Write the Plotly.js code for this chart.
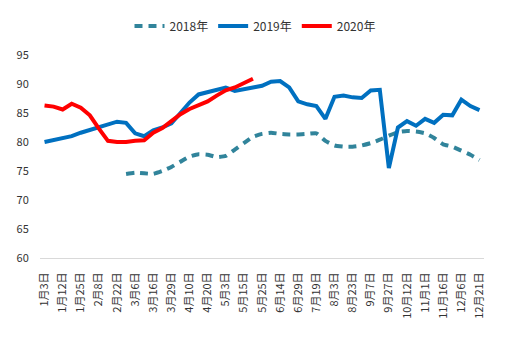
<!DOCTYPE html>
<html>
<head>
<meta charset="utf-8">
<script src="https://cdn.plot.ly/plotly-3.0.1.min.js"></script>
<style>html,body{margin:0;padding:0;background:#fff;}#chart{width:510px;height:345px;}</style>
</head>
<body>
<div id="chart"></div>
<script>
// Tick labels (every other data point is labelled)
const tickLabels = ["1月3日","1月12日","1月25日","2月8日","2月22日","3月6日","3月16日","3月29日","4月10日","4月20日","5月3日","5月15日","5月25日","6月14日","6月29日","7月19日","8月3日","8月23日","9月7日","9月27日","10月12日","11月1日","11月16日","12月6日","12月21日"];

// Series values, one per data point (49 points)
const s2018 = [null,null,null,null,null,null,null,null,null,
  74.5,74.7,74.6,74.5,75.0,75.7,76.6,77.5,77.9,77.8,77.4,77.6,78.7,79.8,80.9,81.4,81.6,81.4,81.3,81.3,81.4,81.5,80.2,79.4,79.2,79.2,79.4,79.8,80.4,81.1,81.7,81.9,81.8,81.5,80.7,79.6,79.2,78.5,77.8,76.9];
const s2019 = [80.0,80.3,80.7,81.0,81.6,82.1,82.5,83.1,83.5,83.3,81.5,81.0,82.0,82.5,83.2,85.0,86.8,88.2,88.6,89.0,89.4,88.8,89.1,89.4,89.7,90.4,90.5,89.4,87.0,86.5,86.2,84.0,87.8,88.0,87.7,87.6,88.9,89.0,75.5,82.5,83.6,82.8,84.0,83.3,84.7,84.6,87.3,86.2,85.5];
const s2020 = [86.3,86.1,85.6,86.6,85.9,84.6,82.3,80.2,80.0,80.0,80.2,80.3,81.6,82.4,83.6,84.8,85.7,86.4,87.0,88.0,88.9,89.4,90.1,90.9];

const seriesNames = ["2018年","2019年","2020年"];

const idx = s2019.map((_, i) => i);
const tickVals = tickLabels.map((_, i) => i * 2);

const fontFam = "'Noto Sans CJK SC','Liberation Sans',sans-serif";

const traces = [
  {x: idx, y: s2018, name: seriesNames[0], type: 'scatter', mode: 'lines',
   line: {color: '#31849B', width: 4, dash: '8px,6px', shape: 'spline', smoothing: 0.4}, connectgaps: false},
  {x: idx, y: s2019, name: seriesNames[1], type: 'scatter', mode: 'lines',
   line: {color: '#0070C0', width: 4}},
  {x: idx.slice(0, s2020.length), y: s2020, name: seriesNames[2], type: 'scatter', mode: 'lines',
   line: {color: '#FF0000', width: 4}}
];

const layout = {
  width: 510, height: 345,
  margin: {l: 40, r: 26, t: 55, b: 87},
  paper_bgcolor: '#fff', plot_bgcolor: '#fff',
  font: {family: fontFam, size: 11, color: '#333'},
  showlegend: true,
  legend: {orientation: 'h', xref: 'container', x: 0.5, xanchor: 'center',
           yref: 'container', y: 0.925, yanchor: 'middle',
           font: {family: fontFam, size: 12, color: '#333'}, itemwidth: 30,
           bgcolor: 'rgba(0,0,0,0)'},
  xaxis: {type: 'linear', range: [-0.5, 48.5], tickvals: tickVals, ticktext: tickLabels,
          tickangle: -90, showgrid: false, zeroline: false, showline: true,
          linecolor: '#d9d9d9', linewidth: 1, ticks: 'outside', ticklen: 9,
          tickcolor: 'rgba(0,0,0,0)', tickfont: {family: fontFam, size: 11, color: '#333'}, fixedrange: true},
  yaxis: {range: [60, 95], dtick: 5, tick0: 60, showgrid: false, zeroline: false, showline: false,
          ticks: 'outside', ticklen: 8, tickcolor: 'rgba(0,0,0,0)',
          tickfont: {family: fontFam, size: 11, color: '#333'}, fixedrange: true}
};

Plotly.newPlot('chart', traces, layout, {displayModeBar: false, staticPlot: true});
</script>
</body>
</html>
